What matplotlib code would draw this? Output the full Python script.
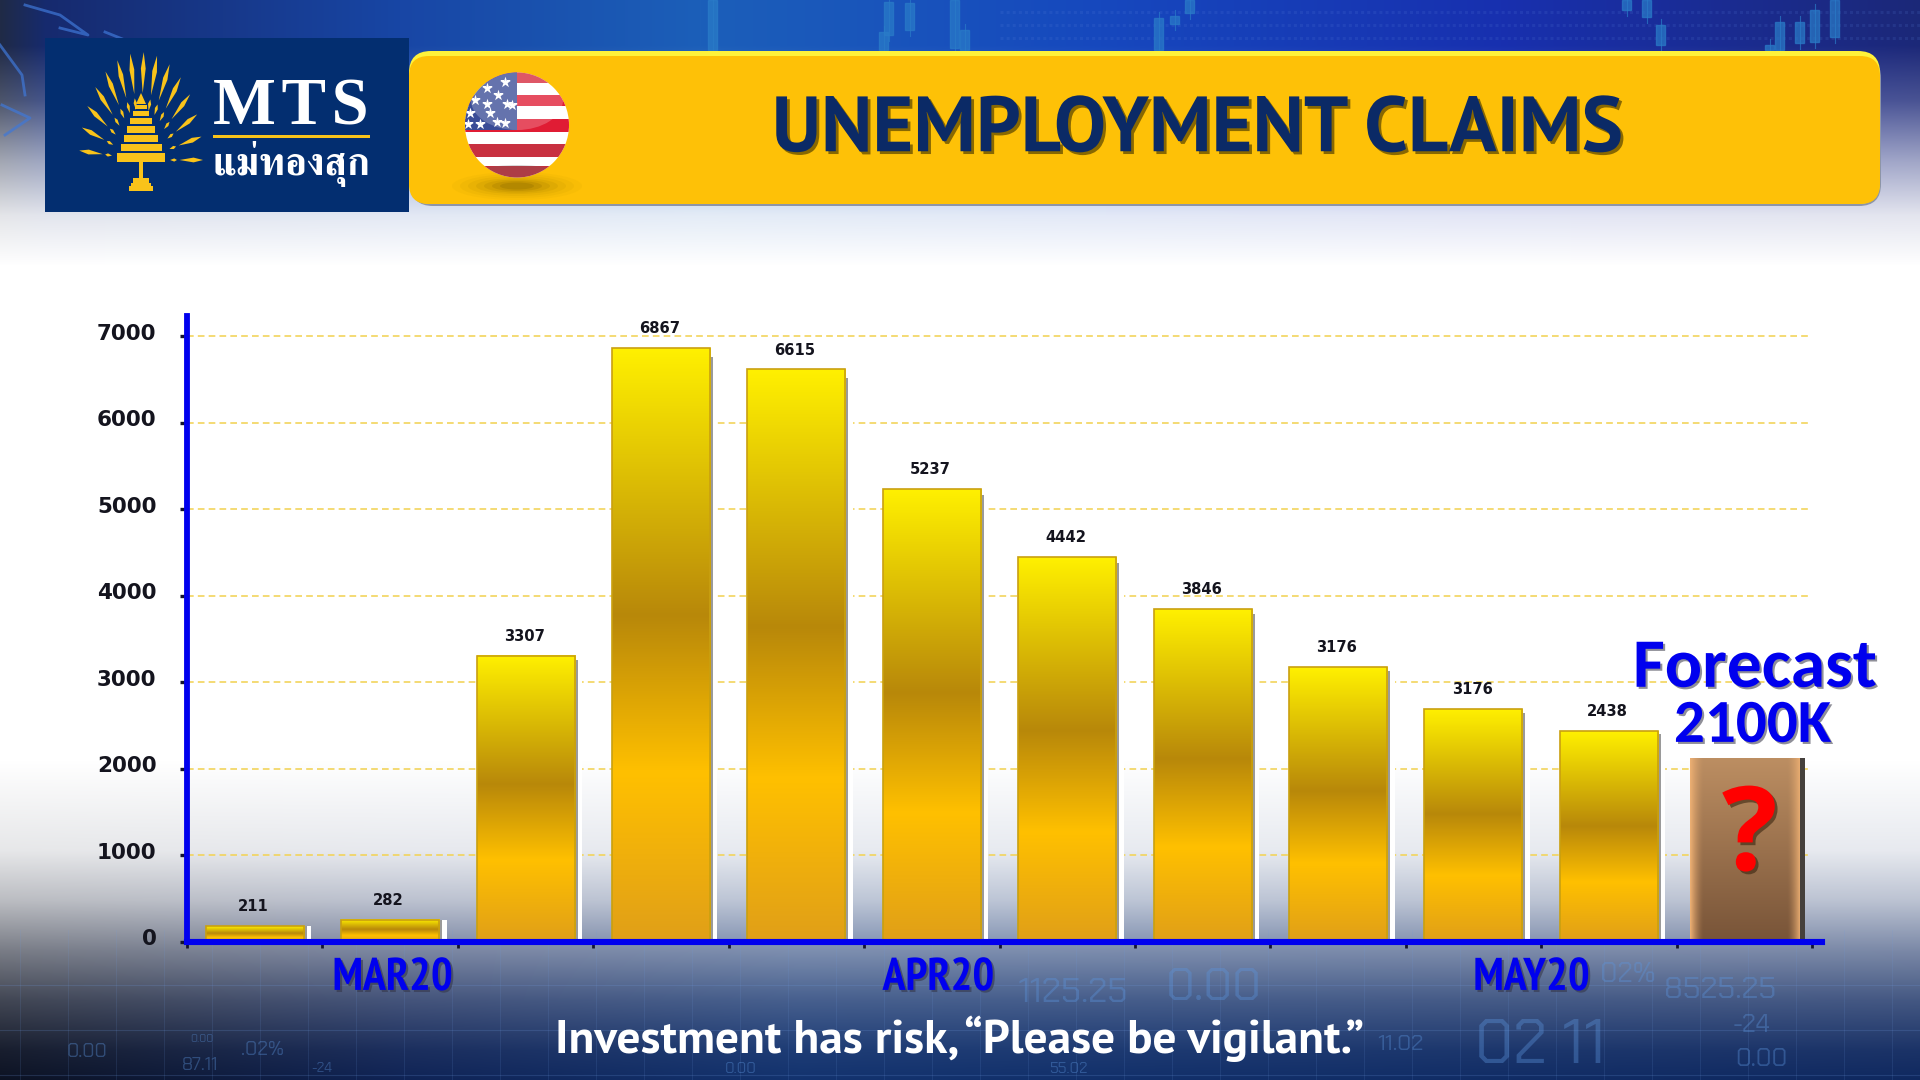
import numpy as np
import matplotlib
matplotlib.use("Agg")
import matplotlib.pyplot as plt
import matplotlib.patheffects as pe
from matplotlib.colors import LinearSegmentedColormap, to_rgb
from matplotlib.patches import FancyBboxPatch, Rectangle, Ellipse, Polygon
from matplotlib.transforms import ScaledTranslation
import logging

logging.getLogger("matplotlib.font_manager").setLevel(logging.ERROR)

# chart data
categories = list(range(11))
values = [184, 255, 3307, 6867, 6615, 5237, 4442, 3846, 3176, 2687, 2438]
value_labels = ["211", "282", "3307", "6867", "6615", "5237", "4442", "3846", "3176", "3176", "2438"]
forecast_pos = 11
forecast_value = 2122
y_ticks = [0, 1000, 2000, 3000, 4000, 5000, 6000, 7000]
months = ["MAR20", "APR20", "MAY20"]
month_pos = [1.02, 5.05, 9.43]

# faint numbers in the backdrop: text, x, y, size
backdrop_text = [("1125.25", 1073, 993, 25), ("0.00", 1214, 989, 33), ("8525.25", 1720, 991, 22),
                 ("02%", 1628, 975, 20), ("-24", 1751, 1026, 18), ("0.00", 1761, 1060, 18),
                 (".02%", 263, 1050, 14), ("0.00", 202, 1039, 8), ("0.00", 87, 1052, 14),
                 ("55.02", 1068, 1069, 11), ("0.00", 741, 1069, 11), ("-24", 322, 1068, 10),
                 ("11.02", 1400, 1045, 16), ("02 11", 1540, 1048, 44), ("87.11", 200, 1066, 13)]
# candlesticks in the top band: x, y top, y bottom
candles = [(708, 0, 50), (884, 2, 35), (905, 3, 30), (960, 30, 50), (879, 32, 50), (950, 0, 48),
           (1154, 18, 50), (1170, 16, 24), (1185, 0, 13), (1622, 0, 10), (1642, 0, 17), (1656, 25, 45),
           (1795, 22, 43), (1810, 10, 42), (1830, 0, 37), (1775, 22, 50), (1765, 45, 50)]

fig = plt.figure(figsize=(19.2, 10.8), dpi=100)

# backdrop, in pixel coordinates
bg = fig.add_axes([0, 0, 1, 1])
bg.set_xlim(0, 1920)
bg.set_ylim(1080, 0)
bg.axis("off")

xs = np.arange(1920)
ys = np.arange(1080)
top_x = [0, 45, 400, 700, 1100, 1500, 1920]
top_c = np.array([[32, 42, 70], [22, 42, 110], [24, 70, 165], [28, 95, 185], [22, 72, 190], [24, 48, 175], [28, 40, 120]])
bot_x = [0, 400, 800, 1920]
bot_c = np.array([[12, 18, 35], [15, 35, 85], [18, 50, 110], [15, 40, 95]])
top_row = np.stack([np.interp(xs, top_x, top_c[:, i]) for i in range(3)], axis=1)
bot_row = np.stack([np.interp(xs, bot_x, bot_c[:, i]) for i in range(3)], axis=1)
a_top = np.interp(ys, [0, 45, 100, 160, 215, 265], [1, 1, 0.8, 0.42, 0.12, 0])
a_bot = np.interp(ys, [760, 850, 900, 950, 1000, 1050, 1080], [0, 0.1, 0.28, 0.55, 0.78, 0.95, 1])
img = np.full((1080, 1920, 3), 255.0)
img = img * (1 - a_top[:, None, None]) + top_row[None, :, :] * a_top[:, None, None]
img = img * (1 - a_bot[:, None, None]) + bot_row[None, :, :] * a_bot[:, None, None]
bg.imshow(img / 255, extent=(0, 1920, 1080, 0), aspect="auto", zorder=0)

# tech pattern
for gx in range(20, 1920, 48):
    bg.plot([gx, gx], [930, 1080], color="#6f9be0", lw=0.6, alpha=0.16, zorder=1)
for gy in [985, 1030, 1075]:
    bg.plot([0, 1920], [gy, gy], color="#6f9be0", lw=0.8, alpha=0.2, zorder=1)
for gy in [12, 25, 38]:
    bg.plot([1000, 1920], [gy, gy], color="#5f86e0", lw=2.2, alpha=0.14, ls=(0, (1, 1)), zorder=1)
for cx, c0, c1 in candles:
    bg.add_patch(Rectangle((cx, c0), 9, c1 - c0, color="#2a7cc8", alpha=0.7, zorder=1))
    bg.plot([cx + 4.5, cx + 4.5], [max(c0 - 6, 0), c1 + 6], color="#2a7cc8", lw=0.8, alpha=0.7, zorder=1)
for pts in [[(25, 5), (60, 15), (88, 35), (60, 28)], [(0, 45), (22, 75), (25, 95)], [(105, 32), (145, 48), (110, 45)],
            [(2, 105), (30, 118), (5, 135)]]:
    bg.plot(*zip(*pts), color="#3f78d8", lw=2, alpha=0.7, zorder=1)
for s, tx, ty, size in backdrop_text:
    bg.text(tx, ty, s, fontsize=size, color="#5c94dc", alpha=0.38, ha="center", va="center",
            family=["Chakra Petch", "DejaVu Sans"], zorder=1)

# banner
bg.add_patch(FancyBboxPatch((411, 56), 1470, 150, boxstyle="round,pad=0,rounding_size=22",
                            fc="#8d95a8", ec="none", zorder=2))
bg.add_patch(FancyBboxPatch((409, 51), 1471, 153, boxstyle="round,pad=0,rounding_size=22",
                            fc="#FFF23A", ec="none", zorder=2))
bg.add_patch(FancyBboxPatch((409, 56), 1471, 148, boxstyle="round,pad=0,rounding_size=20",
                            fc="#FEC107", ec="none", zorder=2))
bg.text(1198, 132, "UNEMPLOYMENT CLAIMS", fontsize=56.4, fontweight="bold", color="#0B2A66", ha="center", va="center",
        family=["PT Sans", "Open Sans"], zorder=3,
        path_effects=[pe.withSimplePatchShadow(offset=(2, -2), shadow_rgbFace="#6b5200", alpha=0.8)])

# logo
gold = "#F9C31A"
bg.add_patch(Rectangle((45, 38), 364, 174, fc="#032E70", ec="none", zorder=3))
cx0, cy0 = 141, 160
for deg in np.arange(0, 181, 12.5):
    t = np.radians(deg)
    dx, dy = np.cos(t), -np.sin(t)
    rx, ry = 62, 108
    for f0, f1, hw in [(0.62, 1.0, 2.4), (0.47, 0.58, 1.6)]:
        if deg in (87.5, 92.5) and f0 < 0.5:
            continue
        p0 = (cx0 + dx * rx * f0, cy0 + dy * ry * f0)
        p1 = (cx0 + dx * rx * f1, cy0 + dy * ry * f1)
        pm = (cx0 + dx * rx * (f0 * 0.4 + f1 * 0.6), cy0 + dy * ry * (f0 * 0.4 + f1 * 0.6))
        nx, ny = -dy, dx
        bg.add_patch(Polygon([p0, (pm[0] + nx * hw, pm[1] + ny * hw), p1, (pm[0] - nx * hw, pm[1] - ny * hw)],
                             fc=gold, ec="none", zorder=4))
tiers = [(153, 162, 48), (144, 151, 41), (135, 142, 34), (126, 133, 28), (118, 124, 22), (111, 116, 16), (105, 109, 12)]
for y0, y1, w in tiers:
    bg.add_patch(Rectangle((141 - w / 2, y0), w, y1 - y0, fc=gold, ec="none", zorder=4))
bg.add_patch(Polygon([(141, 93), (146, 104), (136, 104)], fc=gold, ec="none", zorder=4))
bg.add_patch(Rectangle((139, 162), 4, 16, fc=gold, ec="none", zorder=4))
for y0, w in [(178, 16), (183, 20), (186, 24)]:
    bg.add_patch(Rectangle((141 - w / 2, y0), w, 5, fc=gold, ec="none", zorder=4))
bg.text(291, 108, "M\u200aT\u200aS", fontsize=48, fontweight="bold", color="white", ha="center", va="center",
        family=["Liberation Serif", "DejaVu Serif"], zorder=4)
bg.add_patch(Rectangle((213, 134.5), 157, 3.5, fc=gold, ec="none", zorder=4))
bg.text(291, 164, "แม่ทองสุก", fontsize=28, fontweight="bold", color="white", ha="center", va="center",
        family=["FreeSerif", "Noto Sans Thai", "DejaVu Sans"], zorder=4)

# flag ball
for w, h, a in [(130, 28, 0.03), (114, 24, 0.04), (98, 20, 0.05), (82, 16, 0.07), (66, 13, 0.09), (50, 10, 0.12), (34, 7, 0.15)]:
    bg.add_patch(Ellipse((517, 186), w, h, fc="#5a4400", ec="none", alpha=a, zorder=3))
ball = Ellipse((517, 125), 104, 105, fc="white", ec="none", zorder=4)
bg.add_patch(ball)
stripes = [(70, 83, "#D5283C"), (95, 106, "#E01C34"), (119, 132, "#E01C34"), (144, 157, "#C83040"), (166, 180, "#C5303C")]
for y0, y1, col in stripes:
    r = bg.add_patch(Rectangle((460, y0), 115, y1 - y0, fc=col, ec="none", zorder=5))
    r.set_clip_path(ball)
c = bg.add_patch(Rectangle((460, 70), 57, 60, fc="#3A4C96", ec="none", zorder=5))
c.set_clip_path(ball)
star_x = [487, 505, 475, 498, 512, 470, 490, 507, 480, 497, 468, 487, 505]
star_y = [88, 82, 100, 95, 105, 113, 113, 104, 124, 122, 124, 104, 123]
st = bg.scatter(star_x, star_y, marker="*", s=70, c="white", linewidths=0, zorder=6)
st.set_clip_path(ball)
hi = bg.add_patch(Ellipse((517, 100), 92, 60, fc="white", ec="none", alpha=0.22, zorder=7))
hi.set_clip_path(ball)
sh = bg.add_patch(Ellipse((517, 178), 100, 26, fc="#666666", ec="none", alpha=0.25, zorder=7))
sh.set_clip_path(ball)

# chart
px_x = 135.4
ax = fig.add_axes([187 / 1920, 1 - 941.6 / 1080, 1634.5 / 1920, 625.6 / 1080])
ax.patch.set_alpha(0)
ax.set_xlim(-0.5, 11.57)
ax.set_ylim(0, 7233)
for name in ["top", "right"]:
    ax.spines[name].set_visible(False)
for name in ["left", "bottom"]:
    ax.spines[name].set_color("#0000EE")
ax.spines["left"].set_linewidth(4.2)
ax.spines["bottom"].set_linewidth(4.4)
ax.spines["left"].set_zorder(6)
ax.spines["bottom"].set_zorder(6)
ax.set_xticks(np.arange(-0.5, 11.6, 1))
ax.set_xticklabels([])
ax.set_yticks(y_ticks)
ax.tick_params(axis="y", length=5, width=2.4, color="#14142e", pad=17, labelsize=15.5, labelcolor="#14141e")
ax.tick_params(axis="x", length=4.5, width=2, color="#14142e")
lift = ScaledTranslation(0, 3 / 72, fig.dpi_scale_trans)
for lab in ax.get_yticklabels():
    lab.set_fontweight("bold")
    lab.set_transform(lab.get_transform() + lift)
ax.hlines(y_ticks[1:], -0.5, 11.5, colors="#F2D45C", linestyles=(0, (4, 2.5)), lw=1.2, zorder=1)

bar_w = 98 / px_x
stops = [(0, "#FFF000"), (0.45, "#B8880A"), (0.715, "#FFC000"), (1, "#E09F18")]
gold_map = LinearSegmentedColormap.from_list("gold", stops)
ramp = np.linspace(0, 1, 256)[:, None]
ax.bar(np.array(categories) + bar_w / 2 + 4 / px_x, np.array(values) * 0.98, width=7 / px_x, color="white", zorder=2)
ax.bar(np.array(categories) + bar_w / 2 + 1.5 / px_x, np.array(values) * 0.985, width=3 / px_x, color="#9a9a9a", zorder=2)
bars = ax.bar(categories, values, width=bar_w, facecolor="none", edgecolor="#C9A010", lw=1.2, zorder=4)
for rect in bars:
    ax.imshow(ramp, cmap=gold_map, aspect="auto", origin="upper", zorder=3,
              extent=(rect.get_x(), rect.get_x() + rect.get_width(), 0, rect.get_height()))
for xv, v, lab in zip(categories, values, value_labels):
    ax.annotate(lab, (xv, v), xytext=(-1, 14), textcoords="offset points", ha="center", va="center",
                fontsize=10.6, fontweight="bold", color="#14141e", zorder=5)

# forecast bar, brown with lit sides
fw = 110 / px_x
v_mix = np.linspace(0, 1, 120)[:, None]
h_pos = np.linspace(0, 1, 115)[None, :]
side = np.clip(1 - np.minimum(h_pos, 1 - h_pos) / 0.12, 0, 1) ** 1.5
brown = np.zeros((120, 115, 3))
for i in range(3):
    base = to_rgb("#BC8E62")[i] * (1 - v_mix) + to_rgb("#785438")[i] * v_mix
    brown[:, :, i] = base * (1 - side) + to_rgb("#EBAE72")[i] * side
f_x = forecast_pos + 0.006
ax.imshow(brown, aspect="auto", origin="upper", zorder=3,
          extent=(f_x - fw / 2, f_x + fw / 2, 0, forecast_value))
ax.bar(f_x + fw / 2 + 2.5 / px_x, forecast_value, width=5 / px_x, color="#45403c", zorder=3)
ax.text(forecast_pos + 0.04, 1180, "?", fontsize=84, fontweight="bold", color="#FF0000", ha="center", va="center",
        family=["Open Sans"], zorder=5,
        path_effects=[pe.withSimplePatchShadow(offset=(2, -2), shadow_rgbFace="#3a2510", alpha=0.6)])

blue_shadow = [pe.withSimplePatchShadow(offset=(1.5, -1.5), shadow_rgbFace="#333344", alpha=0.55)]
ax.text(11.08, 3160, "Forecast", fontsize=50, fontweight="bold", color="#0000EE", ha="center", va="center",
        family=["Carlito", "Open Sans"], path_effects=blue_shadow, zorder=6)
ax.text(11.06, 2500, "2100K", fontsize=44, fontweight="bold", color="#0000EE", ha="center", va="center",
        family=["Carlito", "Open Sans"], path_effects=blue_shadow, zorder=6)

for m, mx in zip(months, month_pos):
    ax.text(mx, -420, m, fontsize=33, fontweight="bold", color="#0000EE", ha="center", va="center", clip_on=False,
            family=["PT Sans Narrow", "Roboto Condensed", "Liberation Sans Narrow", "Open Sans"],
            path_effects=blue_shadow, zorder=6)

ax.set_xlim(-0.5, 11.57)
ax.set_ylim(0, 7233)

bg.text(960, 1039, "Investment has risk, “Please be vigilant.”", fontsize=34, fontweight="bold", color="white",
        ha="center", va="center", family=["PT Sans", "Open Sans"], zorder=8)

fig.savefig("out.png", dpi=100)
